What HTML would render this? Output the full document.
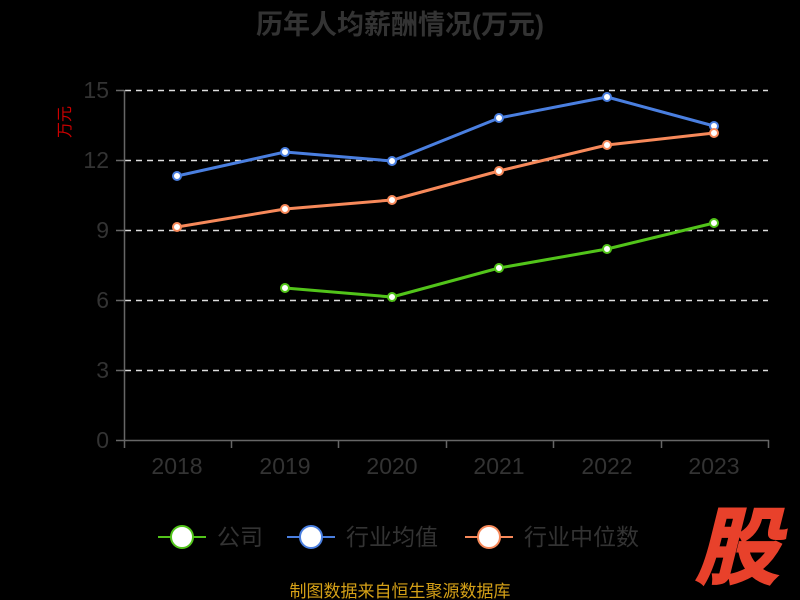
<!DOCTYPE html>
<html><head><meta charset="utf-8"><style>
html,body{margin:0;padding:0;background:#000;}
svg{display:block;font-family:"Liberation Sans","Noto Sans CJK SC",sans-serif;}
</style></head><body>
<svg width="800" height="600" viewBox="0 0 800 600">
<rect width="800" height="600" fill="#000"/>
<text x="400" y="34" text-anchor="middle" font-size="27" font-weight="bold" fill="#333">历年人均薪酬情况(万元)</text>
<text transform="translate(70,122) rotate(-90)" text-anchor="middle" font-size="16" fill="#c00">万元</text>
<g stroke="#ddd" stroke-width="1.5" stroke-dasharray="6,5">
<line x1="125" y1="90.5" x2="768" y2="90.5"/>
<line x1="125" y1="160.5" x2="768" y2="160.5"/>
<line x1="125" y1="230.5" x2="768" y2="230.5"/>
<line x1="125" y1="300.5" x2="768" y2="300.5"/>
<line x1="125" y1="370.5" x2="768" y2="370.5"/>
</g>
<g stroke="#666" stroke-width="1.5">
<line x1="124.5" y1="90" x2="124.5" y2="440"/>
<line x1="124" y1="440.5" x2="769" y2="440.5"/>
<line x1="116" y1="90.5" x2="124" y2="90.5"/><line x1="116" y1="160.5" x2="124" y2="160.5"/><line x1="116" y1="230.5" x2="124" y2="230.5"/><line x1="116" y1="300.5" x2="124" y2="300.5"/><line x1="116" y1="370.5" x2="124" y2="370.5"/><line x1="116" y1="440.5" x2="124" y2="440.5"/>
<line x1="124.5" y1="440" x2="124.5" y2="448"/><line x1="231.5" y1="440" x2="231.5" y2="448"/><line x1="338.5" y1="440" x2="338.5" y2="448"/><line x1="446.5" y1="440" x2="446.5" y2="448"/><line x1="553.5" y1="440" x2="553.5" y2="448"/><line x1="661.5" y1="440" x2="661.5" y2="448"/><line x1="768.5" y1="440" x2="768.5" y2="448"/>
</g>
<g font-size="23" fill="#333" text-anchor="end">
<text x="109" y="98">15</text><text x="109" y="168">12</text><text x="109" y="238">9</text><text x="109" y="308">6</text><text x="109" y="378">3</text><text x="109" y="448">0</text>
</g>
<g font-size="23" fill="#333" text-anchor="middle">
<text x="177" y="474">2018</text><text x="285" y="474">2019</text><text x="392" y="474">2020</text><text x="499" y="474">2021</text><text x="607" y="474">2022</text><text x="714" y="474">2023</text>
</g>
<g fill="none" stroke-width="3" stroke-linejoin="round">
<polyline stroke="#4a7fe0" points="177,176 285,152 392,161 499,118 607,97 714,126"/>
<polyline stroke="#f7895a" points="177,227 285,209 392,200 499,171 607,145 714,133"/>
<polyline stroke="#52c41a" points="285,288 392,297 499,268 607,249 714,223"/>
</g>
<g fill="#fff" stroke-width="2">
<g stroke="#4a7fe0"><circle cx="177" cy="176" r="4"/><circle cx="285" cy="152" r="4"/><circle cx="392" cy="161" r="4"/><circle cx="499" cy="118" r="4"/><circle cx="607" cy="97" r="4"/><circle cx="714" cy="126" r="4"/></g>
<g stroke="#f7895a"><circle cx="177" cy="227" r="4"/><circle cx="285" cy="209" r="4"/><circle cx="392" cy="200" r="4"/><circle cx="499" cy="171" r="4"/><circle cx="607" cy="145" r="4"/><circle cx="714" cy="133" r="4"/></g>
<g stroke="#52c41a"><circle cx="285" cy="288" r="4"/><circle cx="392" cy="297" r="4"/><circle cx="499" cy="268" r="4"/><circle cx="607" cy="249" r="4"/><circle cx="714" cy="223" r="4"/></g>
</g>
<g font-size="23" fill="#333">
<line x1="158" y1="537" x2="206" y2="537" stroke="#52c41a" stroke-width="2"/><ellipse cx="182" cy="537" rx="11" ry="11" fill="#fff" stroke="#52c41a" stroke-width="2"/>
<text x="217" y="545">公司</text>
<line x1="287" y1="537" x2="335" y2="537" stroke="#4a7fe0" stroke-width="2"/><ellipse cx="311" cy="537" rx="11" ry="11" fill="#fff" stroke="#4a7fe0" stroke-width="2"/>
<text x="346" y="545">行业均值</text>
<line x1="465" y1="537" x2="513" y2="537" stroke="#f7895a" stroke-width="2"/><ellipse cx="489" cy="537" rx="11" ry="11" fill="#fff" stroke="#f7895a" stroke-width="2"/>
<text x="524" y="545">行业中位数</text>
</g>
<text x="400" y="597" text-anchor="middle" font-size="17" fill="#d4a017">制图数据来自恒生聚源数据库</text>
<text x="737" y="577" text-anchor="middle" font-size="84" font-weight="bold" font-style="italic" fill="#e8412b" stroke="#e8412b" stroke-width="2">股</text>
</svg>
</body></html>
